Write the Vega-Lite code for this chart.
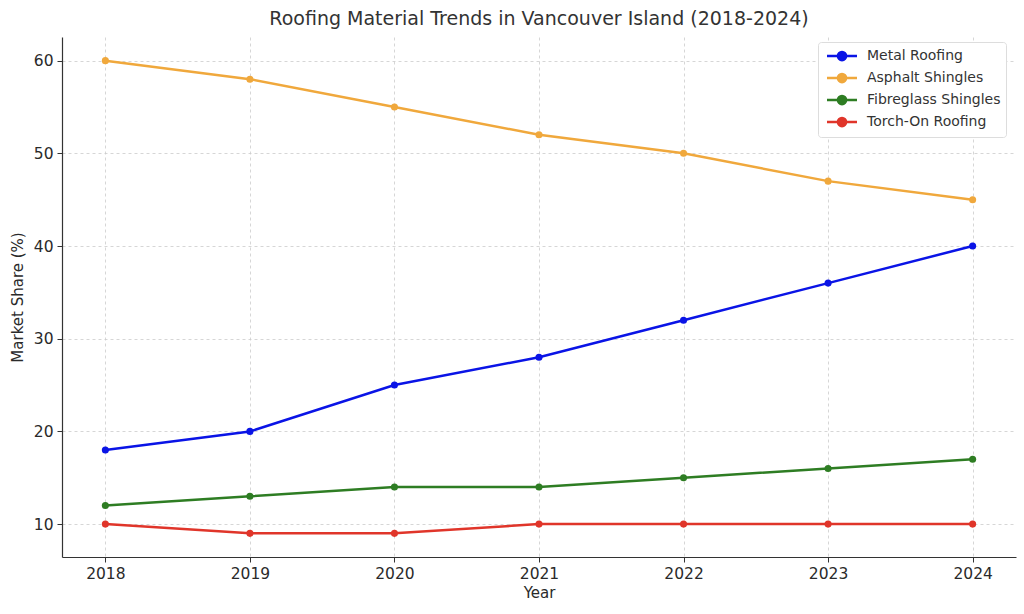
{
  "$schema": "https://vega.github.io/schema/vega-lite/v6.json",
  "width": 954,
  "height": 520,
  "autosize": {"type": "none"},
  "padding": {"left": 62, "top": 37, "right": 8, "bottom": 57},
  "background": "white",
  "title": {
    "text": "Roofing Material Trends in Vancouver Island (2018-2024)",
    "fontSize": 19,
    "font": "DejaVu Sans",
    "fontWeight": "normal",
    "color": "#333333",
    "anchor": "middle",
    "offset": 8
  },
  "config": {
    "font": "DejaVu Sans",
    "view": {"stroke": null},
    "axis": {
      "labelFont": "DejaVu Sans",
      "titleFont": "DejaVu Sans",
      "labelFontSize": 15.5,
      "titleFontSize": 15,
      "titleFontWeight": "normal",
      "labelColor": "#2a2a2a",
      "titleColor": "#2a2a2a",
      "domainColor": "#333333",
      "domainWidth": 1.2,
      "tickColor": "#333333",
      "tickSize": 5,
      "gridColor": "#cccccc",
      "gridDash": [3, 3],
      "gridWidth": 0.8
    }
  },
  "data": {
    "values": [
      {"year": 2018, "material": "Metal Roofing", "share": 18},
      {"year": 2019, "material": "Metal Roofing", "share": 20},
      {"year": 2020, "material": "Metal Roofing", "share": 25},
      {"year": 2021, "material": "Metal Roofing", "share": 28},
      {"year": 2022, "material": "Metal Roofing", "share": 32},
      {"year": 2023, "material": "Metal Roofing", "share": 36},
      {"year": 2024, "material": "Metal Roofing", "share": 40},
      {"year": 2018, "material": "Asphalt Shingles", "share": 60},
      {"year": 2019, "material": "Asphalt Shingles", "share": 58},
      {"year": 2020, "material": "Asphalt Shingles", "share": 55},
      {"year": 2021, "material": "Asphalt Shingles", "share": 52},
      {"year": 2022, "material": "Asphalt Shingles", "share": 50},
      {"year": 2023, "material": "Asphalt Shingles", "share": 47},
      {"year": 2024, "material": "Asphalt Shingles", "share": 45},
      {"year": 2018, "material": "Fibreglass Shingles", "share": 12},
      {"year": 2019, "material": "Fibreglass Shingles", "share": 13},
      {"year": 2020, "material": "Fibreglass Shingles", "share": 14},
      {"year": 2021, "material": "Fibreglass Shingles", "share": 14},
      {"year": 2022, "material": "Fibreglass Shingles", "share": 15},
      {"year": 2023, "material": "Fibreglass Shingles", "share": 16},
      {"year": 2024, "material": "Fibreglass Shingles", "share": 17},
      {"year": 2018, "material": "Torch-On Roofing", "share": 10},
      {"year": 2019, "material": "Torch-On Roofing", "share": 9},
      {"year": 2020, "material": "Torch-On Roofing", "share": 9},
      {"year": 2021, "material": "Torch-On Roofing", "share": 10},
      {"year": 2022, "material": "Torch-On Roofing", "share": 10},
      {"year": 2023, "material": "Torch-On Roofing", "share": 10},
      {"year": 2024, "material": "Torch-On Roofing", "share": 10}
    ]
  },
  "encoding": {
    "x": {
      "field": "year",
      "type": "quantitative",
      "scale": {"domain": [2017.7, 2024.3], "nice": false, "zero": false},
      "axis": {"values": [2018, 2019, 2020, 2021, 2022, 2023, 2024], "format": "d", "title": "Year", "titlePadding": 4, "labelPadding": 4}
    },
    "y": {
      "field": "share",
      "type": "quantitative",
      "scale": {"domain": [6.45, 62.55], "nice": false, "zero": false},
      "axis": {"values": [10, 20, 30, 40, 50, 60], "title": "Market Share (%)", "titlePadding": 8, "labelPadding": 4}
    },
    "color": {
      "field": "material",
      "type": "nominal",
      "sort": ["Metal Roofing", "Asphalt Shingles", "Fibreglass Shingles", "Torch-On Roofing"],
      "scale": {
        "domain": ["Metal Roofing", "Asphalt Shingles", "Fibreglass Shingles", "Torch-On Roofing"],
        "range": ["#0a14e6", "#f0a83c", "#2e7d23", "#e0352a"]
      },
      "legend": {
        "title": null,
        "orient": "none",
        "legendX": 756,
        "legendY": 5,
        "padding": 5,
        "strokeColor": "#dddddd",
        "fillColor": "white",
        "cornerRadius": 3,
        "labelFontSize": 14,
        "labelColor": "#333333",
        "labelFont": "DejaVu Sans",
        "symbolType": "M-2,0H2M-0.55,0a0.55,0.55 0 1,0 1.1,0a0.55,0.55 0 1,0 -1.1,0",
        "symbolSize": 225,
        "symbolStrokeWidth": 2.5,
        "symbolOffset": 10,
        "rowPadding": 2,
        "labelOffset": 16
      }
    }
  },
  "layer": [
    {"mark": {"type": "line", "strokeWidth": 2.5}},
    {"mark": {"type": "point", "filled": true, "size": 50, "opacity": 1}}
  ]
}
